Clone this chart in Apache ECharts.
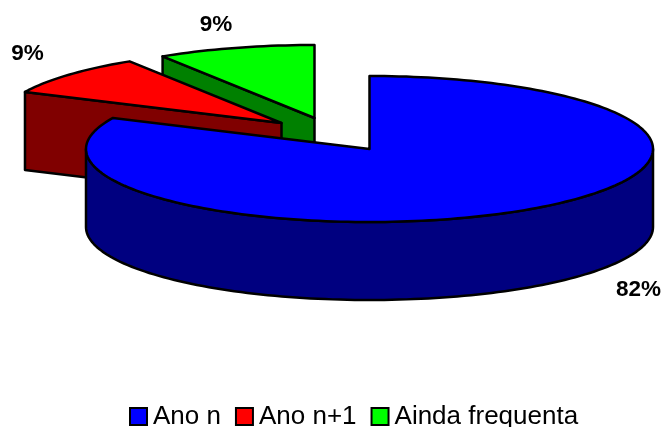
<!DOCTYPE html>
<html>
<head>
<meta charset="utf-8">
<style>html,body{margin:0;padding:0;background:#fff}#c{width:662px;height:427px}</style>
<script src="https://cdn.jsdelivr.net/npm/echarts@6/dist/echarts.min.js"></script>
</head>
<body>
<div id="c"></div>
<script>
const categories = ['Ano n', 'Ano n+1', 'Ainda frequenta'];
const values = [82, 9, 9];
const percentLabels = ['82%', '9%', '9%'];

const topColors = ['#0000FF', '#FF0000', '#00FF00'];
const sideColors = ['#000080', '#800000', '#008000'];
const explode = [[0, 0], [-88, -26], [-55, -31]];
const labelAt = [[638.5, 289.5], [27.5, 53.5], [216, 25]];
const cx = 369.5, cy = 149, rx = 283.5, ry = 73, depth = 78;

const total = values.reduce((a, b) => a + b, 0);
let acc = 0;
const spans = values.map(v => { const s = acc; acc += v; return [s / total * 360, acc / total * 360]; });

function pt(deg, ox, oy, dz) {
  const a = deg * Math.PI / 180;
  return [cx + ox + rx * Math.sin(a), cy + oy - ry * Math.cos(a) + dz];
}
function arc(a0, a1, ox, oy, dz) {
  const n = Math.max(2, Math.ceil(Math.abs(a1 - a0) / 1.5)), out = [];
  for (let i = 0; i <= n; i++) out.push(pt(a0 + (a1 - a0) * i / n, ox, oy, dz));
  return out;
}
const stroke = { stroke: '#000', lineWidth: 2.5, lineJoin: 'round' };

function makeRender(idx) {
  return function (params, api) {
    const a0 = api.value(0), a1 = api.value(1);
    const ox = explode[idx][0], oy = explode[idx][1];
    const tip = [cx + ox, cy + oy];
    const tipLow = [tip[0], tip[1] + depth];
    const children = [];
    const side = sideColors[idx];
    const poly = (points, fill) => children.push({
      type: 'polygon', shape: { points }, style: Object.assign({ fill }, stroke)
    });
    // cut faces seen by the viewer
    if (a0 > 180) {
      const p = pt(a0, ox, oy, 0);
      poly([p, tip, tipLow, [p[0], p[1] + depth]], side);
    }
    if (a1 < 180) {
      const p = pt(a1, ox, oy, 0);
      poly([p, tip, tipLow, [p[0], p[1] + depth]], side);
    }
    // outer wall: the front half of the rim only
    const w0 = Math.max(a0, 90), w1 = Math.min(a1, 270);
    if (w1 > w0) {
      poly(arc(w0, w1, ox, oy, 0).concat(arc(w1, w0, ox, oy, depth)), side);
    }
    // top face
    poly([tip].concat(arc(a0, a1, ox, oy, 0)), topColors[idx]);
    children.push({
      type: 'text',
      style: {
        x: labelAt[idx][0], y: labelAt[idx][1], text: percentLabels[idx],
        align: 'center', verticalAlign: 'middle', fill: '#000',
        font: 'bold 22.5px "Liberation Sans", Arial, sans-serif'
      }
    });
    return { type: 'group', children };
  };
}

// back slices first, so the large front slice overlaps them
const drawOrder = [2, 1, 0];
const series = drawOrder.map(i => ({
  type: 'custom',
  name: categories[i],
  coordinateSystem: 'none',
  renderItem: makeRender(i),
  data: [spans[i]],
  clip: false,
  silent: true,
  z: 3 - i,
  itemStyle: { color: topColors[i] }
}));

const chart = echarts.init(document.getElementById('c'), null, { renderer: 'canvas' });
chart.setOption({
  animation: false,
  backgroundColor: '#fff',
  legend: {
    data: categories,
    left: 129,
    top: 404,
    padding: 0,
    icon: 'rect',
    itemWidth: 17,
    itemHeight: 17,
    itemGap: 14,
    selectedMode: false,
    itemStyle: { borderColor: '#000', borderWidth: 2 },
    formatter: '{t|{name}}',
    textStyle: {
      rich: { t: { color: '#000', fontSize: 26, padding: [1, 0, 0, 1], fontFamily: '"Liberation Sans", Arial, sans-serif' } }
    }
  },
  series
});
</script>
</body>
</html>
